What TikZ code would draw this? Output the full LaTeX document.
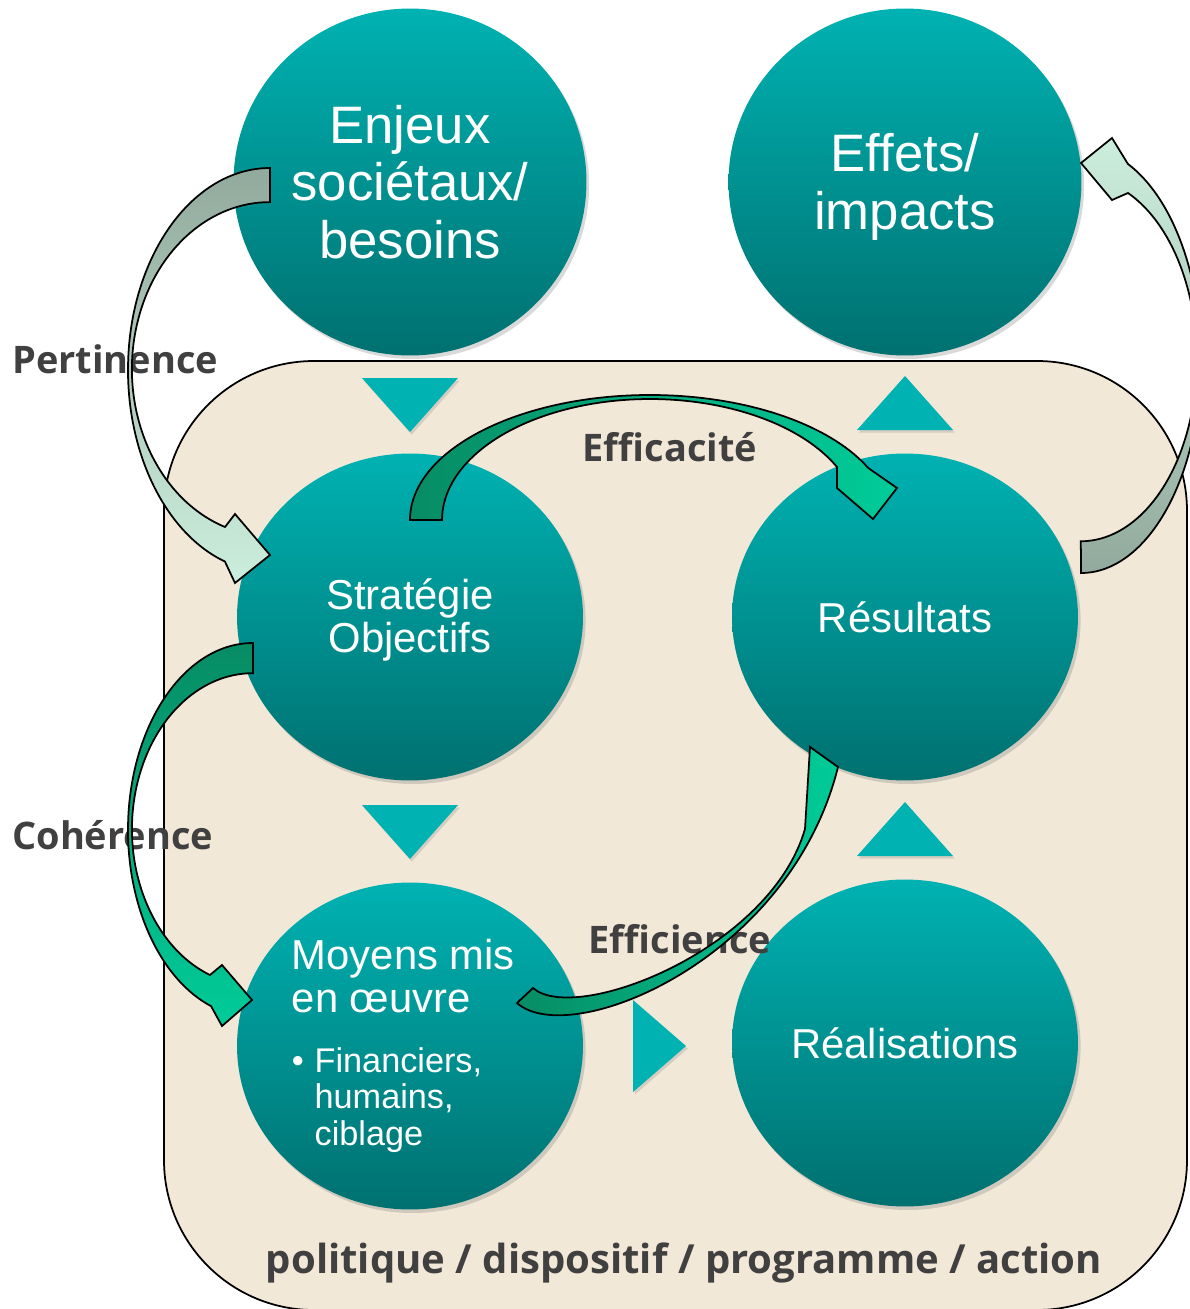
\documentclass[tikz,border=0pt]{standalone}
\usepackage{fontspec}
\setmainfont{Liberation Sans}
\newfontfamily\etiqfont{Open Sans}
\usetikzlibrary{shapes.geometric, shadows}

\definecolor{fond}{HTML}{F2E8D8}
\definecolor{tealhaut}{HTML}{00B2B2}
\definecolor{tealbas}{HTML}{007070}
\definecolor{gristexte}{HTML}{404040}
\definecolor{grisvert}{HTML}{92AA9D}
\definecolor{menthe}{HTML}{CCEEDD}
\definecolor{vertfonce}{HTML}{078C64}
\definecolor{vertvif}{HTML}{00CC99}

\tikzset{
    bulle/.style={ellipse, inner sep=0pt, text=white, align=center,
        top color=tealhaut, bottom color=tealbas,
        drop shadow={shadow xshift=1.5pt, shadow yshift=-2pt, opacity=0.3}},
    grande/.style={minimum width=7.06cm, minimum height=6.94cm,
        font=\fontsize{30}{32.7}\selectfont},
    petite/.style={minimum width=6.92cm, minimum height=6.54cm,
        font=\fontsize{23.8}{24.5}\selectfont},
    pointe/.style={fill=tealhaut,
        drop shadow={shadow xshift=1pt, shadow yshift=-1.5pt, opacity=0.25}},
    etiquette/.style={inner sep=0pt, text=gristexte,
        font=\etiqfont\bfseries\fontsize{21.6}{24}\selectfont},
    fleche/.style={draw=black, line width=1pt, line join=miter},
}

\begin{document}
\begin{tikzpicture}[x=0.02cm, y=-0.02cm]
    \useasboundingbox (0,0) rectangle (1190,1309);

    % Cadre : politique / dispositif / programme / action
    \draw[fill=fond, line width=1pt, rounded corners=3cm] (164,361) rectangle (1187,1310);

    % Les six bulles
    \node[bulle, grande] (enjeux) at (410,182) {Enjeux\\sociétaux/\\besoins};
    \node[bulle, grande] (effets) at (905,182) {\raisebox{-0.36cm}[0pt][0pt]{\begin{tabular}{@{}c@{}}Effets/\\impacts\end{tabular}}};
    \node[bulle, petite] (strategie) at (410,617) {\raisebox{-0.32cm}[0pt][0pt]{\begin{tabular}{@{}c@{}}Stratégie\\Objectifs\end{tabular}}};
    \node[bulle, petite] (resultats) at (905,617) {Résultats};
    \node[bulle, petite] (moyens) at (410,1046) {%
        \hspace*{-0.16cm}\begin{minipage}{130pt}\raggedright
            Moyens mis\\en œuvre\par
            \vspace{13pt}
            \fontsize{19.5}{20.8}\selectfont
            \makebox[13pt][l]{\textbullet}Financiers,\\
            \hspace*{13pt}humains,\\
            \hspace*{13pt}ciblage
        \end{minipage}};
    \node[bulle, petite] (realisations) at (905,1043) {Réalisations};

    % Triangles entre les bulles
    \foreach \y in {378,805}
        \fill[pointe] (362,\y) -- (458,\y) -- (410,\y+54) -- cycle;
    \foreach \y in {430,856}
        \fill[pointe] (857,\y) -- (953,\y) -- (905,\y-54) -- cycle;
    \fill[pointe] (633,1000) -- (686,1046) -- (633,1092) -- cycle;

    % Etiquettes des criteres
    \node[etiquette, anchor=base west] (pertinence) at (12,373) {Pertinence};
    \node[etiquette, anchor=base west] (coherence) at (12,849) {Cohérence};
    \node[etiquette, anchor=base] (efficacite) at (670,461) {Efficacité};
    \node[etiquette, anchor=base] (efficience) at (680,953) {Efficience};
    \node[etiquette, anchor=base, font=\etiqfont\bfseries\fontsize{22.8}{24}\selectfont]
        (cadre) at (684,1273) {politique / dispositif / programme / action};

    % Fleches courbes
    % Pertinence : enjeux -> strategie
    \draw[fleche, top color=grisvert, bottom color=menthe]
        (270,168) arc[start angle=270, end angle=108.5, x radius=142, y radius=202]
        -- (235,583) -- (270,555) -- (235,514) -- (225,527)
        arc[start angle=109, end angle=270, x radius=138, y radius=167] -- cycle;
    % resultats -> effets
    \draw[fleche, top color=menthe, bottom color=grisvert]
        (1081,573) arc[start angle=90, end angle=-67, x radius=120, y radius=213]
        -- (1112,138) -- (1081,163) -- (1112,200) -- (1128,193)
        arc[start angle=-66, end angle=90, x radius=116, y radius=182] -- cycle;
    % Coherence : strategie -> moyens
    \draw[fleche, top color=vertfonce, bottom color=vertvif]
        (253,643) arc[start angle=270, end angle=109.6, x radius=125, y radius=187]
        -- (222,1026) -- (252,1000) -- (222,965) -- (210,975)
        arc[start angle=110.8, end angle=270, x radius=121, y radius=156] -- cycle;
    % Efficacite : strategie -> resultats
    \draw[fleche, left color=vertfonce, right color=vertvif]
        (410,520) arc[start angle=180, end angle=335.4, x radius=240, y radius=125]
        -- (897,488) -- (873,519) -- (837,488) -- (837,467)
        arc[start angle=334, end angle=180, x radius=208, y radius=121] -- cycle;
    % Efficience : moyens -> resultats
    \draw[fleche, left color=vertfonce, right color=vertvif]
        (517,1003) .. controls (570,1050) and (790,960) .. (838,767)
        -- (810,747) -- (805,829)
        .. controls (770,950) and (575,1025) .. (533,988) -- cycle;
\end{tikzpicture}
\end{document}
